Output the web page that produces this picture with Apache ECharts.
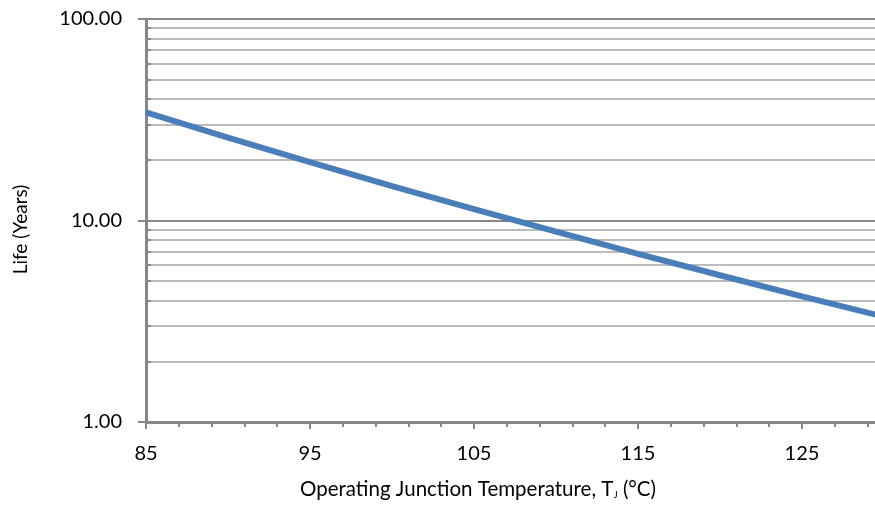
<!DOCTYPE html>
<html>
<head>
<meta charset="utf-8">
<script src="https://cdn.jsdelivr.net/npm/echarts@6/dist/echarts.min.js"></script>
<style>
  html, body { margin: 0; padding: 0; background: #fff; }
  #chart { width: 875px; height: 508px; }
</style>
</head>
<body>
<div id="chart"></div>
<script>
// junction temperature (°C) and life (years)
var temps = [85, 90, 95, 100, 105, 110, 115, 120, 125, 130];
var life = [34.4, 25.8, 19.5, 14.8, 11.4, 8.8, 6.83, 5.35, 4.2, 3.33];
// light gridlines between the decades
var yMinorTicks = [2, 3, 4, 5, 6, 7, 8, 9, 20, 30, 40, 50, 60, 70, 80, 90];

var axisGray = '#878787';
var minorGray = '#bcbcbc';
var font = 'Lato, "Open Sans", sans-serif';

var chart = echarts.init(document.getElementById('chart'));

var lineData = temps.map(function (t, i) { return [t, life[i]]; });

var option = {
  animation: false,
  grid: {
    left: 146,
    right: -91,
    top: 19,
    bottom: 86,
    outerBoundsMode: 'none'
  },
  xAxis: {
    type: 'value',
    min: 85,
    max: 135,
    interval: 10,
    name: 'Operating Junction Temperature, T{sub|J} (°C)',
    nameLocation: 'middle',
    nameGap: 57,
    nameTextStyle: {
      color: '#000',
      fontFamily: font,
      fontSize: 20.5,
      // axis runs past the right edge, so pull the title back to the visible middle
      padding: [0, 156, 0, 0],
      rich: {
        sub: { fontSize: 10, verticalAlign: 'bottom', fontFamily: font, color: '#000' }
      }
    },
    axisLine: { show: true, onZero: false, lineStyle: { color: axisGray, width: 3 } },
    axisTick: { show: true, length: 7, lineStyle: { color: axisGray, width: 2 } },
    minorTick: { show: true, splitNumber: 5, length: 5, lineStyle: { color: axisGray, width: 2 } },
    splitLine: { show: false },
    axisLabel: {
      color: '#000',
      fontFamily: font,
      fontSize: 20,
      margin: 22,
      showMaxLabel: false,
      showMinLabel: true
    }
  },
  yAxis: [
    {
      type: 'log',
      logBase: 10,
      min: 1,
      max: 100,
      name: 'Life (Years)',
      nameLocation: 'middle',
      nameGap: 116,
      nameTextStyle: { color: '#000', fontFamily: font, fontSize: 19, padding: [0, 18, 0, 0] },
      axisLine: { show: true, lineStyle: { color: axisGray, width: 3 } },
      axisTick: { show: true, length: 8, lineStyle: { color: axisGray, width: 2 } },
      splitLine: { show: true, lineStyle: { color: axisGray, width: 2 } },
      axisLabel: {
        color: '#000',
        fontFamily: font,
        fontSize: 20,
        margin: 24,
        formatter: function (v) { return Number(v).toFixed(2); }
      }
    },
    {
      type: 'log',
      logBase: 10,
      min: 1,
      max: 100,
      position: 'left',
      axisLine: { show: false },
      axisLabel: { show: false },
      axisTick: { show: true, inside: true, length: 5, customValues: yMinorTicks, lineStyle: { color: axisGray, width: 2 } },
      splitLine: { show: true, lineStyle: { color: minorGray, width: 2 } }
    }
  ],
  series: [
    {
      type: 'line',
      data: lineData,
      showSymbol: false,
      symbol: 'none',
      lineStyle: { color: '#4a7ebb', width: 6 },
      z: 5
    }
  ]
};

chart.setOption(option);
</script>
</body>
</html>
